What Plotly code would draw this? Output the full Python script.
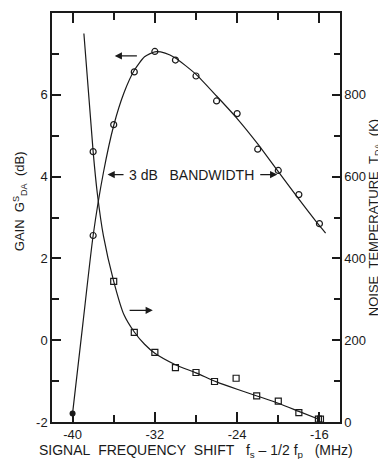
import plotly.graph_objects as go

# Gain data (circles), left axis (dB)
gain_x = [-38, -36, -34, -32, -30, -28, -26, -24, -22, -20, -18, -16]
gain_y = [2.56, 5.27, 6.56, 7.06, 6.85, 6.46, 5.85, 5.54, 4.67, 4.15, 3.56, 2.85]
gain_end_x = [-40]
gain_end_y = [-1.79]
# Smooth gain curve
gcurve_x = [-40, -39, -38, -37, -36, -35, -34, -33, -32, -31, -30, -28, -26, -24, -22, -20, -18, -16, -15.4]
gcurve_y = [-1.79, 0.4, 2.56, 4.1, 5.25, 6.05, 6.6, 6.93, 7.05, 7.02, 6.9, 6.5, 5.97, 5.42, 4.8, 4.12, 3.45, 2.8, 2.62]

# Noise temperature data (squares), right axis (K)
noise_x = [-36, -34, -32, -30, -28, -26.2, -24.1, -22.1, -20, -18, -16.1, -15.9]
noise_y = [344, 219, 170, 133, 121, 99, 107, 64, 51, 23, 7, 7]
noise_circ_x = [-38]
noise_circ_y = [661]
ncurve_x = [-38.9, -38, -37.6, -37, -36, -35, -34, -33, -32, -30, -28, -26, -24, -22, -20, -18, -16]
ncurve_y = [950, 661, 560, 455, 344, 262, 220, 190, 168, 140, 120, 98, 80, 63, 46, 26, 6]

ink = "#1a1a1a"
fig = go.Figure()

fig.add_trace(go.Scatter(x=gcurve_x, y=gcurve_y, mode="lines", line=dict(color=ink, width=1.2, shape="spline", smoothing=0.6), hoverinfo="skip", showlegend=False))
fig.add_trace(go.Scatter(x=gain_x, y=gain_y, mode="markers", marker=dict(symbol="circle-open", size=6, color=ink, line=dict(width=1.2)), showlegend=False))
fig.add_trace(go.Scatter(x=gain_end_x, y=gain_end_y, mode="markers", marker=dict(symbol="circle", size=6, color=ink),
                         error_y=dict(type="data", symmetric=False, array=[0], arrayminus=[0.21], width=0, color=ink, thickness=1.2), showlegend=False))

fig.add_trace(go.Scatter(x=ncurve_x, y=ncurve_y, yaxis="y2", mode="lines", line=dict(color=ink, width=1.2, shape="spline", smoothing=0.6), hoverinfo="skip", showlegend=False))
fig.add_trace(go.Scatter(x=noise_x, y=noise_y, yaxis="y2", mode="markers", marker=dict(symbol="square-open", size=6, color=ink, line=dict(width=1.2)), showlegend=False))
fig.add_trace(go.Scatter(x=noise_circ_x, y=noise_circ_y, yaxis="y2", mode="markers", marker=dict(symbol="circle-open", size=6, color=ink, line=dict(width=1.2)), showlegend=False))

font = "Liberation Sans, Arial, sans-serif"
axis_common = dict(showline=True, linecolor=ink, linewidth=1.5, ticks="inside", tickcolor=ink, tickwidth=1.5,
                   showgrid=False, zeroline=False, tickfont=dict(family=font, size=13, color=ink))

# page body has an 8px default margin, so the figure is 8px smaller than the window
fig.update_layout(
    width=378, height=451,
    margin=dict(l=44, r=46, t=5, b=37, autoexpand=False),
    paper_bgcolor="white", plot_bgcolor="white",
    showlegend=False,
    xaxis=dict(range=[-42, -14], tickvals=[-40, -32, -24, -16], ticktext=["-40", "-32", "-24", "-16"], ticklen=10,
               minor=dict(tickvals=[-36, -28, -20], ticklen=7, tickcolor=ink, ticks="inside"),
               mirror="ticks", **axis_common),
    yaxis=dict(range=[-2, 8], tickvals=[-2, 0, 2, 4, 6], ticktext=["-2", "0", "2", "4", "6"], ticklen=9,
               ticklabelstandoff=0,
               minor=dict(dtick=1, ticklen=7, tickcolor=ink, ticks="inside"), **axis_common),
    yaxis2=dict(range=[0, 1000], overlaying="y", side="right", tickvals=[0, 200, 400, 600, 800], ticklen=8,
                ticklabelstandoff=0,
                title=dict(text="NOISE&nbsp;&nbsp;TEMPERATURE&nbsp;&nbsp;T<sub>DA</sub>&nbsp;&nbsp;(K)",
                           font=dict(family=font, size=13, color=ink), standoff=2),
                minor=dict(dtick=100, ticklen=6, tickcolor=ink, ticks="inside"), **axis_common),
)

fig.add_annotation(x=-35.9, y=6.95, ax=-33.6, ay=6.95, xref="x", yref="y", axref="x", ayref="y", text="",
                   showarrow=True, arrowhead=2, arrowsize=1.2, arrowwidth=1.2, arrowcolor=ink)
fig.add_annotation(x=-32.2, y=0.73, ax=-34.6, ay=0.73, xref="x", yref="y", axref="x", ayref="y", text="",
                   showarrow=True, arrowhead=2, arrowsize=1.2, arrowwidth=1.2, arrowcolor=ink)
fig.add_annotation(x=-36.6, y=4.05, ax=-34.9, ay=4.05, xref="x", yref="y", axref="x", ayref="y", text="",
                   showarrow=True, arrowhead=2, arrowsize=1.2, arrowwidth=1.2, arrowcolor=ink)
fig.add_annotation(x=-20.1, y=4.05, ax=-21.9, ay=4.05, xref="x", yref="y", axref="x", ayref="y", text="",
                   showarrow=True, arrowhead=2, arrowsize=1.2, arrowwidth=1.2, arrowcolor=ink)
fig.add_annotation(x=-28.4, y=4.05, xref="x", yref="y", text="3 dB&nbsp;&nbsp;&nbsp;BANDWIDTH", showarrow=False,
                   font=dict(family=font, size=14, color=ink))

fig.add_annotation(x=0.5, y=-0.071, xref="paper", yref="paper", yanchor="middle",
                   text="SIGNAL&nbsp;&nbsp;FREQUENCY&nbsp;&nbsp;SHIFT&nbsp;&nbsp;&nbsp;f<sub>s</sub> – 1/2 f<sub>p</sub>&nbsp;&nbsp;&nbsp;(MHz)",
                   showarrow=False, font=dict(family=font, size=14, color=ink))
fig.add_annotation(x=-0.111, y=0.54, xref="paper", yref="paper", textangle=-90, xanchor="center", yanchor="middle",
                   text="GAIN&nbsp;&nbsp;G<sup>S</sup><sub>DA</sub>&nbsp;&nbsp;(dB)", showarrow=False,
                   font=dict(family=font, size=13, color=ink))

fig.write_html("out.html")
